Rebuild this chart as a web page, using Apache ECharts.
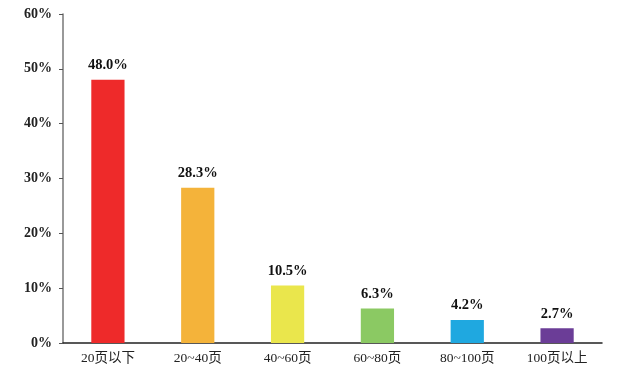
<!DOCTYPE html>
<html><head><meta charset="utf-8">
<script src="https://cdn.jsdelivr.net/npm/echarts@6/dist/echarts.min.js"></script>
<style>html,body{margin:0;padding:0;background:#fff}#c{width:621px;height:384px}</style>
</head><body><div id="c"></div>
<script>
const categories = ['20页以下','20~40页','40~60页','60~80页','80~100页','100页以上'];
const values = [48.0, 28.3, 10.5, 6.3, 4.2, 2.7];
const colors = ['#EE2A2A','#F4B33A','#EAE64C','#8BC963','#1FA8E0','#6B3D97'];
const yTicks = [0,10,20,30,40,50,60];
const serif = '"Liberation Serif","Times New Roman","Noto Sans CJK SC",serif';
const chart = echarts.init(document.getElementById('c'));
chart.setOption({
  animation:false,
  grid:{left:63,right:19,top:14,bottom:41,containLabel:false},
  xAxis:{type:'category',data:categories,
    axisLine:{lineStyle:{color:'#222',width:1.5}},
    axisTick:{inside:true,length:4,lineStyle:{color:'#222'}},
    axisLabel:{color:'#222',fontFamily:serif,fontSize:13.5,margin:9}},
  yAxis:{type:'value',min:yTicks[0],max:yTicks[yTicks.length-1],interval:10,
    axisLine:{show:true,lineStyle:{color:'#777',width:1.5}},
    axisTick:{show:true,length:4,lineStyle:{color:'#555'}},
    splitLine:{show:false},
    axisLabel:{color:'#222',fontFamily:serif,fontSize:14,fontWeight:'bold',margin:11,formatter:'{value}%'}},
  series:[{type:'bar',barWidth:'37%',
    data:values.map((v,i)=>({value:v,itemStyle:{color:colors[i]}})),
    label:{show:true,position:'top',distance:7,color:'#111',fontFamily:serif,fontSize:14.5,fontWeight:'bold',
      formatter:p=>p.value.toFixed(1)+'%'}}]
});
</script></body></html>
